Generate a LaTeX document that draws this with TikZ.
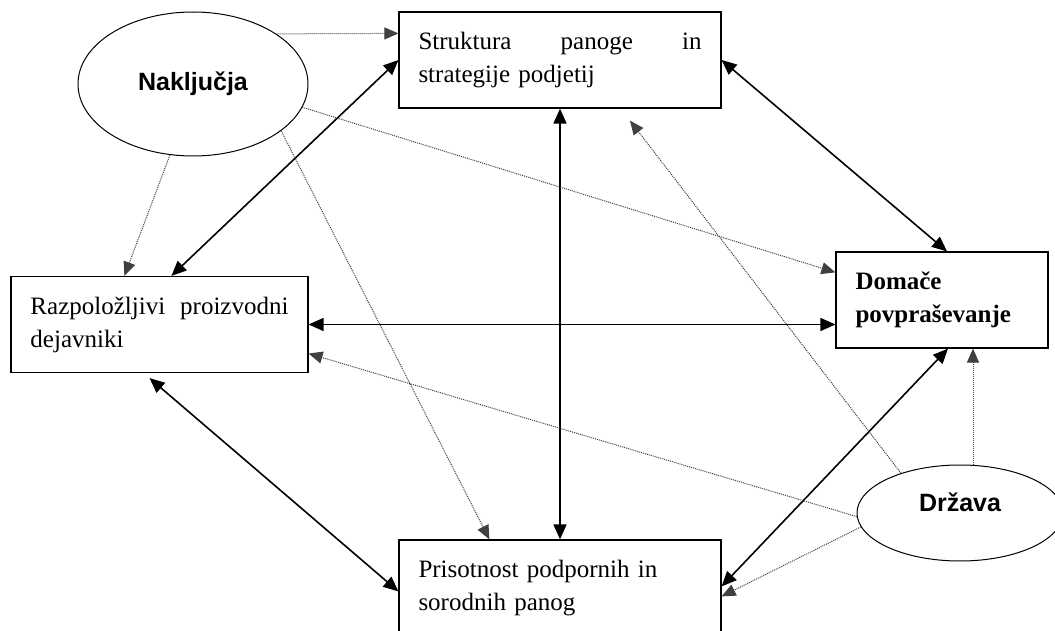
\documentclass[tikz,border=0pt]{standalone}
\usepackage{fontspec}
\setmainfont{Liberation Serif}
\setsansfont{Liberation Sans}
\usetikzlibrary{shapes.geometric,arrows.meta}

\begin{document}
\begin{tikzpicture}[x=1pt,y=-1pt,
    faktor/.style={draw,rectangle,line width=1.2pt,inner xsep=19.5pt,inner ysep=0pt,
      minimum height=96pt,align=left,font=\fontsize{25}{33}\selectfont},
    oval/.style={draw,ellipse,line width=1pt,inner sep=0pt,
      font=\sffamily\bfseries\fontsize{25}{28}\selectfont},
    vpliv/.style={densely dotted,line width=1pt,draw=black!75,
      -{Triangle[length=14pt,width=12pt]}},
    odnos/.style={line width=1.6pt,
      {Triangle[length=15pt,width=13pt]}-{Triangle[length=15pt,width=13pt]}}]
  \useasboundingbox (0,0) rectangle (1055,631);

  % Porterjev diamant: stiri determinante
  \node[faktor,text width=283pt] (struktura) at (560,60) {Struktura\hfill panoge\hfill in\\strategije podjetij};
  \node[faktor,text width=258pt] (dejavniki) at (159.5,324.5) {Razpoložljivi\hfill proizvodni\\dejavniki};
  \node[faktor,text width=173pt,font=\bfseries\fontsize{25}{33}\selectfont] (povpras) at (942,300) {Domače\\povpraševanje};
  \node[faktor,text width=283pt] (panoge) at (560,588) {Prisotnost podpornih in\\sorodnih panog};

  % zunanja dejavnika
  \node[oval,minimum width=230pt,minimum height=144pt] (nakljucja) at (193,84) {Naključja};
  \node[oval,minimum width=206pt,minimum height=96pt,
    label={[font=\sffamily\bfseries\fontsize{25}{28}\selectfont,yshift=11pt]center:Država}] (drzava) at (960,513) {};

  \begin{scope}[odnos]
    \draw ([xshift=161pt]dejavniki.north west) to (struktura.west);
    \draw (struktura.south) to (panoge.north);
    \draw (struktura.east) to ([xshift=5pt]povpras.north);
    \draw (dejavniki.east) to (dejavniki.east -| povpras.west);
    \draw ([xshift=-10pt,yshift=-5pt]dejavniki.south) to ([yshift=-52pt]panoge.north west);
    \draw ([yshift=-47pt]panoge.north east) to ([xshift=6pt]povpras.south);
  \end{scope}

  \begin{scope}[vpliv]
    \draw (nakljucja.31) to ([yshift=-22pt]struktura.north west);
    \draw (nakljucja.252) to ([xshift=114pt]dejavniki.north west);
    \draw (nakljucja.-12) to ([yshift=-21pt]povpras.north west);
    \draw (nakljucja.-28) to ([xshift=91pt]panoge.north west);
    \draw (drzava.182) to ([yshift=-29pt]dejavniki.east);
    \draw (drzava.146) to ([xshift=70pt,yshift=-12pt]struktura.south);
    \draw (drzava.188) to ([yshift=-57pt]panoge.north east);
    \draw ([xshift=13pt]drzava.north) to ([xshift=31pt]povpras.south);
  \end{scope}
\end{tikzpicture}
\end{document}
